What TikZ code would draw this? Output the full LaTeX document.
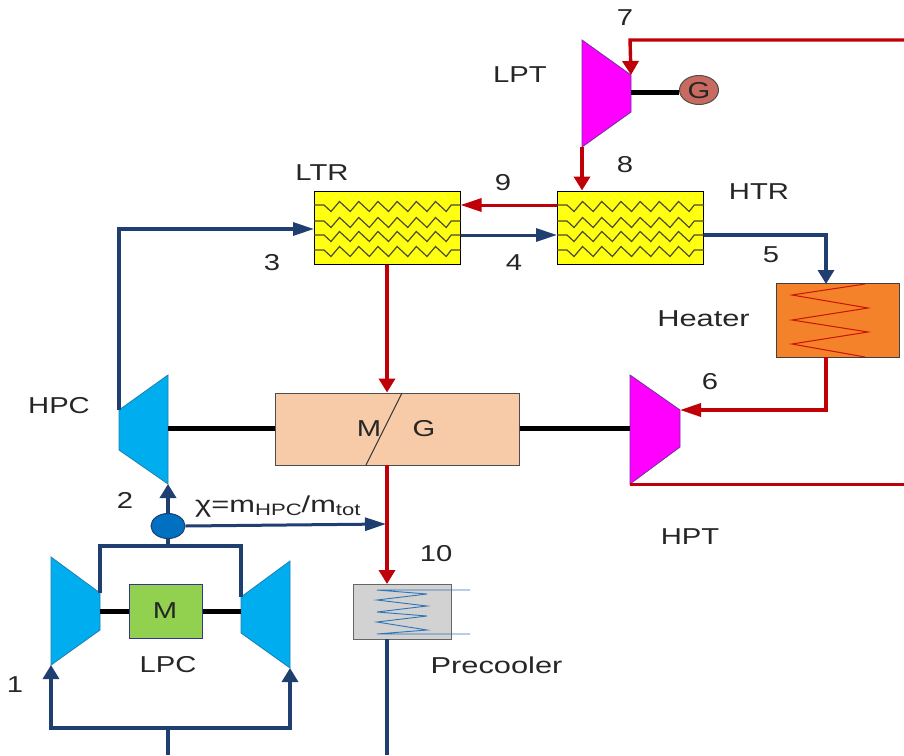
\documentclass[tikz,border=0pt]{standalone}
\usepackage{fontspec}
\setmainfont[FakeStretch=1.27]{Liberation Sans}
\newfontfamily\widefam[FakeStretch=1.34]{Liberation Sans}
\usetikzlibrary{arrows.meta,shapes.geometric}
\definecolor{bl}{HTML}{1F3F70}
\definecolor{rd}{HTML}{C00008}
\definecolor{cya}{HTML}{00AEEF}
\definecolor{mag}{HTML}{FF00FF}
\definecolor{txt}{HTML}{262626}
\definecolor{hxy}{HTML}{FFFF10}
\definecolor{heat}{HTML}{F4822A}
\definecolor{peach}{HTML}{F8CBA8}
\definecolor{grn}{HTML}{92D050}
\definecolor{gencol}{HTML}{C96A60}
\definecolor{tedge}{HTML}{7030A0}
\definecolor{cedge}{HTML}{1F7FAF}
\definecolor{splitc}{HTML}{0070C0}
\definecolor{coil}{HTML}{2E75B6}
\definecolor{grey}{HTML}{D2D2D2}
\tikzset{
 x=1pt,y=-1pt,
 lab/.style={font=\fontsize{23}{25}\selectfont,text=txt,inner sep=0pt,yshift=-1pt},
 tipv/.style={-{Triangle[length=14pt,width=16pt]}},
 tiph/.style={-{Triangle[length=21pt,width=13pt]}},
 bluew/.style={draw=bl,line width=3.3pt},
 bluev/.style={draw=bl,line width=3.6pt},
 blueh/.style={draw=bl,line width=3pt},
 redw/.style={draw=rd,line width=3.4pt},
 redv/.style={draw=rd,line width=4pt},
 redh/.style={draw=rd,line width=3pt},
 shaft/.style={draw=black,line width=5pt},
 comp/.style={draw=cedge,line width=0.8pt,fill=cya},
 turb/.style={draw=tedge,line width=0.8pt,fill=mag},
 hx/.style={draw=black,line width=1pt,fill=hxy,minimum width=146pt,minimum height=73pt,inner sep=0pt},
 zig/.style={draw=black!60!olive,line width=1.2pt},
}
\begin{document}
\begin{tikzpicture}
\useasboundingbox (0,0) rectangle (904,755);
% exchangers
\node[hx] (ltr) at (387,227.5) {};
\node[hx] (htr) at (630.5,227.5) {};
\foreach \x in {314,557}{\foreach \y in {205,221,235,250}{
 \draw[zig] (\x,\y) -- ++(10,0) -- ++(7,6.5)
  -- ++(8.5,-10) -- ++(10.7,10) -- ++(8.5,-10) -- ++(10.7,10) -- ++(8.5,-10) -- ++(10.7,10)
  -- ++(8.5,-10) -- ++(10.7,10) -- ++(8.5,-10) -- ++(10.7,10) -- ++(8.5,-10) -- ++(10.7,10)
  -- ++(5,-6.5) -- ++(10,0);
}}
% heater
\node[draw=black!75,line width=1pt,fill=heat,minimum width=123pt,minimum height=74pt,inner sep=0pt] (heater) at (837.5,320) {};
\draw[draw=rd!85!orange,line width=1pt] (865,284) -- (792,295) -- (868,308) -- (792,320) -- (868,332) -- (792,344) -- (865,357);
% MG
\node[draw=black!70,line width=1pt,fill=peach,minimum width=244pt,minimum height=72pt,inner sep=0pt] (mg) at (397,429) {};
\coordinate (mgA) at (366,465);
\coordinate (mgB) at (402,393);
\draw[line width=1pt,draw=black!80] (mgA) -- (mgB);
\node[lab] (mgM) at (369,428) {M};
\node[lab] (mgG) at (424,428) {G};
% precooler
\node[draw=black!60,line width=1pt,fill=grey,minimum width=98pt,minimum height=55pt,inner sep=0pt] (pre) at (402,611.5) {};
\draw[draw=coil,line width=0.9pt] (470,590) -- (377,590) -- (427,594) -- (377,600) -- (427,606) -- (377,612) -- (427,616) -- (377,622) -- (427,630) -- (377,634) -- (470,634);
% LPT
\coordinate (lpt1) at (582,40);
\coordinate (lptin) at (631,75);
\coordinate (lpt3) at (631,112);
\coordinate (lptout) at (582,147);
\draw[turb] (lpt1) -- (lptin) -- (lpt3) -- (lptout) -- cycle;
\node[draw=black!70,line width=1pt,fill=gencol,ellipse,minimum width=39pt,minimum height=29pt,inner sep=0pt] (gen) at (699,90) {};
\node[lab] (genG) at (699,90) {G};
% HPT
\coordinate (hpt1) at (630,375);
\coordinate (hptin) at (680,410);
\coordinate (hpt3) at (680,447);
\coordinate (hptout) at (630,484);
\coordinate (hptsh) at (630,428);
\draw[turb] (hpt1) -- (hptin) -- (hpt3) -- (hptout) -- cycle;
% HPC
\coordinate (hpc1) at (168,375);
\coordinate (hpcout) at (119,410);
\coordinate (hpc3) at (119,450);
\coordinate (hpcin) at (168,484);
\coordinate (hpcsh) at (168,428);
\draw[comp] (hpc1) -- (hpcout) -- (hpc3) -- (hpcin) -- cycle;
% LPC
\coordinate (la) at (51,557);
\coordinate (lb) at (100,593);
\coordinate (lc) at (100,630);
\coordinate (ld) at (51,665);
\coordinate (lsh) at (100,611);
\draw[comp] (la) -- (lb) -- (lc) -- (ld) -- cycle;
\coordinate (ra) at (290,561);
\coordinate (rb) at (241,597);
\coordinate (rc) at (241,633);
\coordinate (rdn) at (290,668);
\coordinate (rsh) at (241,611);
\draw[comp] (ra) -- (rb) -- (rc) -- (rdn) -- cycle;
\node[draw=blue!50!black!80,line width=1pt,fill=grn,minimum width=73pt,minimum height=54pt,inner sep=0pt] (mot) at (165.5,611) {};
\node[lab] (motM) at (165,610) {M};
% splitter
\node[draw=bl,line width=1pt,fill=splitc,ellipse,minimum width=34pt,minimum height=25pt,inner sep=0pt] (split) at (168,526) {};
% shafts
\draw[shaft] (lptin |- 0,92) -- (gen.west |- 0,92);
\draw[shaft] (mg.east |- hptsh) -- (hptsh);
\draw[shaft] (hpcsh) -- (mg.west |- hpcsh);
\draw[shaft] (lsh) -- (mot.west);
\draw[shaft] (mot.east) -- (rsh);
% red
\coordinate (e7) at (904,40);
\coordinate (c7) at (630,40);
\draw[redw,tipv] (e7) -- (c7) -- (lptin);
\draw[redv,tipv] (lptout) -- (lptout |- htr.north);
\coordinate (h9) at (htr.west |- 0,205);
\coordinate (l9) at (ltr.east |- 0,205);
\draw[redh,tiph] (h9) -- (l9);
\draw[redv,tipv] (ltr.south) -- (ltr.south |- mg.north);
\coordinate (mgout) at (387,465);
\coordinate (preN) at (387,584);
\draw[redv,tipv] (mgout) -- (preN);
\coordinate (hb) at (826,357);
\coordinate (c6) at (826,410);
\draw[redw,tiph] (hb) -- (c6) -- (hptin);
\coordinate (e8) at (904,484);
\draw[redh] (hptout) -- (e8);
% blue
\coordinate (l4) at (ltr.east |- 0,235);
\coordinate (h4) at (htr.west |- 0,235);
\draw[blueh,tiph] (l4) -- (h4);
\coordinate (h5) at (htr.east |- 0,235);
\coordinate (c5) at (826,235);
\coordinate (ht) at (826,284);
\draw[bluew,tipv] (h5) -- (c5) -- (ht);
\coordinate (c3) at (119,229);
\coordinate (l3) at (314,229);
\draw[bluew,tiph] (hpcout) -- (c3) -- (l3);
\draw[bluev,tipv] (split.north) -- (hpcin);
\coordinate (mix) at (386,524);
\draw[blueh,tiph] (split.east) -- (mix);
\coordinate (j) at (168,546);
\coordinate (jl) at (100,546);
\coordinate (jr) at (241,546);
\draw[bluev] (split.south) -- (j);
\draw[bluew] (lb) -- (jl) -- (jr) -- (rb);
\coordinate (b0) at (168,755);
\coordinate (b1) at (168,728);
\coordinate (bl1) at (51,728);
\coordinate (br1) at (290,728);
\draw[bluev] (b0) -- (b1);
\draw[bluew,tipv] (b1) -- (bl1) -- (ld);
\draw[bluew,tipv] (b1) -- (br1) -- (rdn);
\coordinate (pb) at (387,755);
\coordinate (pt) at (387,639);
\draw[bluev] (pt) -- (pb);
% labels
\node[lab] (t7) at (625,17) {7};
\node[lab] (tlpt) at (520,74) {LPT};
\node[lab] (t8) at (625,164) {8};
\node[lab] (t9) at (503,182) {9};
\node[lab] (tltr) at (322,172) {LTR};
\node[lab] (thtr) at (759,191) {HTR};
\node[lab] (t3) at (272,262) {3};
\node[lab] (t4) at (514,262) {4};
\node[lab] (t5) at (771,254) {5};
\node[lab] (thtr2) at (703.5,318) {\widefam Heater};
\node[lab] (t6) at (710,381) {6};
\node[lab] (thpc) at (59,405) {HPC};
\node[lab] (t2) at (125,499) {2};
\node[lab,anchor=base west] (tchi) at (195,511) {\widefam χ=m\raisebox{-3pt}{\fontsize{16.5}{18}\selectfont HPC}/m\raisebox{-3pt}{\fontsize{16.5}{18}\selectfont tot}};
\node[lab] (t10) at (436,553) {10};
\node[lab] (thpt) at (690,536) {HPT};
\node[lab] (tpre) at (496.5,664) {\widefam Precooler};
\node[lab] (tlpc) at (168,664) {LPC};
\node[lab] (t1) at (15,684) {1};
\end{tikzpicture}
\end{document}
